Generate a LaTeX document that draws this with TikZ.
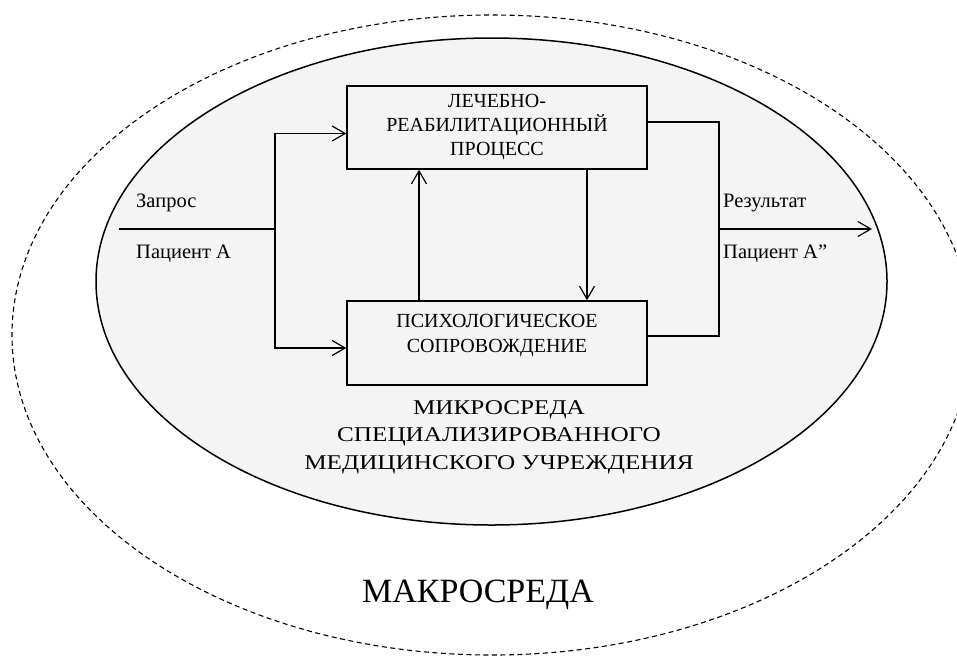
\documentclass[tikz,border=0pt]{standalone}
\usepackage{fontspec}
\setmainfont{Liberation Serif}
\newfontfamily\midfont[FakeStretch=1.2]{Liberation Serif}
\usetikzlibrary{arrows.meta}
\definecolor{micro}{HTML}{F4F4F4}
\tikzset{
  conn/.style={line width=1.2pt},
  arr/.style={conn,-{Straight Barb[length=13pt,width=15pt,line width=1.2pt]}},
  procbox/.style={draw,line width=1.4pt,fill=micro,minimum width=300pt,inner sep=0pt,align=center,font=\fontsize{20}{24}\selectfont},
  lbl/.style={anchor=base west,inner sep=0pt,font=\fontsize{20.5}{24}\selectfont},
  midtext/.style={align=center,inner sep=0pt,font=\midfont\fontsize{21}{27.5}\selectfont},
}
\begin{document}
\begin{tikzpicture}[x=1pt,y=-1pt]
\useasboundingbox (0,0) rectangle (957,657);
% outer macro-environment
\draw[line width=1.1pt,dash pattern=on 5pt off 3.5pt] (492,335) ellipse [x radius=480pt,y radius=320pt];
% inner micro-environment
\draw[line width=1.5pt,fill=micro] (491.5,281.5) ellipse [x radius=395.5pt,y radius=243.5pt];
% boxes
\node[procbox,minimum height=83pt] (top) at (497,127.5) {ЛЕЧЕБНО-\\РЕАБИЛИТАЦИОННЫЙ\\ПРОЦЕСС};
\node[procbox,minimum height=84pt] (bot) at (497,343) {};
\node[align=center,inner sep=0pt,font=\fontsize{20}{25}\selectfont] (bottxt) at (497,335) {ПСИХОЛОГИЧЕСКОЕ\\СОПРОВОЖДЕНИЕ};
% input
\coordinate (in) at (119,229);
\coordinate (split) at (275,229);
\draw[conn] (in) -- (split);
\draw[arr] (split) |- ([yshift=-6pt]top.west);
\draw[arr] (split) |- ([yshift=-5pt]bot.west);
% internal arrows
\draw[arr] ([xshift=-78pt]bot.north) -- ([xshift=-78pt]top.south);
\draw[arr] ([xshift=90pt]top.south) -- ([xshift=90pt]bot.north);
% output
\coordinate (join) at (719,229);
\coordinate (out) at (872,229);
\draw[conn] ([yshift=5.5pt]top.east) -| (join);
\draw[conn] ([yshift=7pt]bot.east) -| (join);
\draw[arr] (join) -- (out);
% labels
\node[lbl] (req) at (136,207) {Запрос};
\node[lbl] (pa) at (136,258) {Пациент А};
\node[lbl] (res) at (723,207) {Результат};
\node[lbl] (pa2) at (723,258) {Пациент А”};
\node[midtext] (micro) at (499,437) {МИКРОСРЕДА\\СПЕЦИАЛИЗИРОВАННОГО\\МЕДИЦИНСКОГО УЧРЕЖДЕНИЯ};
\node[anchor=base,inner sep=0pt,font=\fontsize{34}{38}\selectfont] (macro) at (478,602) {МАКРОСРЕДА};
\end{tikzpicture}
\end{document}
